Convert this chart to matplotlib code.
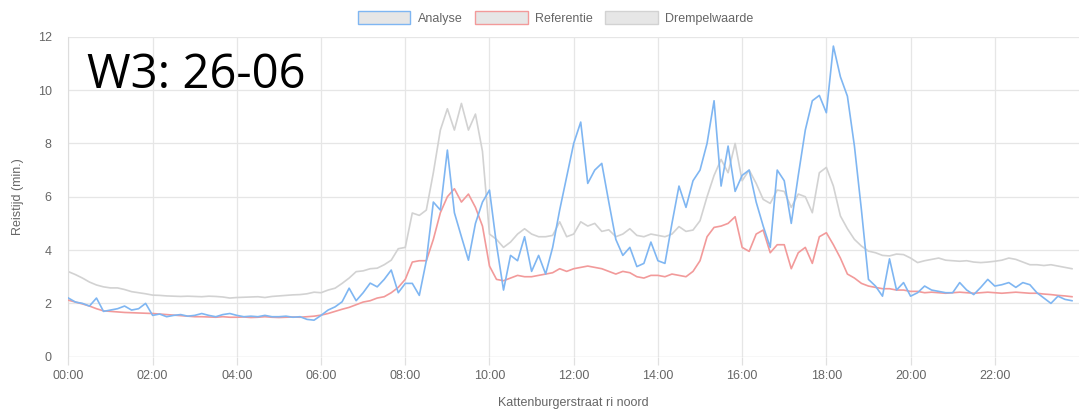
"""
Reistijd Kattenburgerstraat ri noord, 26-06: analyse vs referentie vs drempelwaarde.
"""
import numpy as np
import matplotlib
matplotlib.use("Agg")
import matplotlib.pyplot as plt
from matplotlib.patches import Patch

# minutes since midnight, one value per 10 minutes
MINUTES = np.arange(0, 24 * 60, 10)

# Analyse (min.)
analyse = [
    2.20, 2.05, 2.00, 1.90, 2.20, 1.70,
    1.75, 1.80, 1.90, 1.75, 1.80, 2.00,
    1.55, 1.60, 1.50, 1.55, 1.58, 1.52,
    1.55, 1.62, 1.55, 1.50, 1.58, 1.62,
    1.55, 1.50, 1.52, 1.50, 1.55, 1.50,
    1.50, 1.52, 1.48, 1.50, 1.40, 1.37,
    1.55, 1.75, 1.87, 2.06, 2.57, 2.10,
    2.40, 2.76, 2.62, 2.90, 3.25, 2.40,
    2.75, 2.75, 2.30, 3.60, 5.80, 5.50,
    7.75, 5.40, 4.50, 3.62, 5.00, 5.80,
    6.25, 4.20, 2.50, 3.80, 3.60, 4.50,
    3.20, 3.80, 3.10, 4.10, 5.50, 6.75,
    8.00, 8.80, 6.50, 7.00, 7.25, 5.80,
    4.40, 3.80, 4.10, 3.38, 3.50, 4.30,
    3.60, 3.50, 5.00, 6.40, 5.60, 6.60,
    7.00, 8.00, 9.60, 6.40, 7.90, 6.20,
    6.80, 7.00, 5.80, 4.90, 4.10, 7.00,
    6.60, 5.00, 6.80, 8.50, 9.60, 9.80,
    9.15, 11.65, 10.50, 9.77, 7.90, 5.50,
    2.90, 2.65, 2.27, 3.67, 2.50, 2.78,
    2.27, 2.40, 2.65, 2.50, 2.45, 2.40,
    2.40, 2.78, 2.50, 2.33, 2.60, 2.90,
    2.65, 2.70, 2.78, 2.60, 2.78, 2.70,
    2.40, 2.20, 2.00, 2.27, 2.15, 2.10,
]

# Referentie (min.)
referentie = [
    2.12, 2.05, 1.98, 1.90, 1.80, 1.72,
    1.70, 1.68, 1.66, 1.65, 1.64, 1.63,
    1.62, 1.60, 1.58, 1.56, 1.54, 1.52,
    1.50, 1.50, 1.49, 1.48, 1.50, 1.48,
    1.48, 1.49, 1.47, 1.48, 1.50, 1.48,
    1.47, 1.48, 1.49, 1.48, 1.50, 1.52,
    1.56, 1.62, 1.70, 1.78, 1.85, 1.95,
    2.05, 2.10, 2.20, 2.25, 2.40, 2.60,
    2.90, 3.55, 3.60, 3.60, 4.40, 5.40,
    6.00, 6.30, 5.80, 6.10, 5.60, 4.90,
    3.40, 2.90, 2.85, 2.95, 3.05, 3.00,
    3.00, 3.05, 3.10, 3.15, 3.30, 3.20,
    3.30, 3.35, 3.40, 3.35, 3.30, 3.20,
    3.10, 3.20, 3.15, 3.00, 2.95, 3.05,
    3.05, 3.00, 3.10, 3.05, 3.00, 3.20,
    3.60, 4.50, 4.85, 4.90, 5.00, 5.25,
    4.10, 3.95, 4.60, 4.75, 3.90, 4.20,
    4.20, 3.30, 3.90, 4.10, 3.50, 4.50,
    4.65, 4.20, 3.70, 3.10, 2.95, 2.75,
    2.65, 2.60, 2.55, 2.55, 2.50, 2.50,
    2.45, 2.45, 2.40, 2.42, 2.40, 2.38,
    2.40, 2.42, 2.40, 2.38, 2.40, 2.42,
    2.40, 2.38, 2.40, 2.42, 2.40, 2.38,
    2.38, 2.35, 2.33, 2.30, 2.28, 2.25,
]

# Drempelwaarde (min.)
drempel = [
    3.19, 3.08, 2.95, 2.80, 2.69, 2.62,
    2.58, 2.58, 2.52, 2.44, 2.40, 2.36,
    2.31, 2.30, 2.28, 2.27, 2.26, 2.27,
    2.26, 2.25, 2.27, 2.26, 2.24, 2.20,
    2.22, 2.23, 2.24, 2.25, 2.22, 2.26,
    2.28, 2.30, 2.32, 2.33, 2.36, 2.42,
    2.40, 2.50, 2.57, 2.75, 2.95, 3.19,
    3.22, 3.30, 3.32, 3.45, 3.62, 4.05,
    4.10, 5.39, 5.30, 5.50, 6.90, 8.50,
    9.30, 8.50, 9.50, 8.50, 9.10, 7.70,
    4.60, 4.40, 4.10, 4.30, 4.60, 4.80,
    4.60, 4.50, 4.50, 4.55, 5.06, 4.50,
    4.60, 5.06, 4.90, 5.00, 4.70, 4.76,
    4.50, 4.60, 4.80, 4.55, 4.50, 4.60,
    4.55, 4.50, 4.60, 4.88, 4.70, 4.75,
    5.10, 6.00, 6.80, 7.40, 6.90, 8.00,
    6.60, 7.00, 6.50, 5.90, 5.75, 6.25,
    6.20, 5.60, 6.10, 6.00, 5.40, 6.90,
    7.10, 6.40, 5.28, 4.80, 4.40, 4.15,
    3.96, 3.90, 3.80, 3.78, 3.85, 3.83,
    3.70, 3.53, 3.60, 3.65, 3.70, 3.62,
    3.60, 3.58, 3.60, 3.55, 3.53, 3.55,
    3.58, 3.62, 3.70, 3.65, 3.55, 3.45,
    3.45, 3.42, 3.45, 3.40, 3.35, 3.30,
]

TICK_HOURS = list(range(0, 24, 2))
TICK_LABELS = ["%02d:00" % h for h in TICK_HOURS]

BLUE = "#7fb6f2"
RED = "#f29a9a"
GREY = "#d2d2d2"
TEXT = "#666666"


def main():
    plt.rcParams['font.family'] = ['Liberation Sans', 'DejaVu Sans']
    fig = plt.figure(figsize=(10.79, 4.13), dpi=100)
    ax = fig.add_axes([0.0634, 0.1363, 0.9366, 0.7747])

    hours = MINUTES / 60.0
    ax.plot(hours, drempel, color=GREY, lw=1.2, zorder=2)
    ax.plot(hours, referentie, color=RED, lw=1.2, zorder=3)
    ax.plot(hours, analyse, color=BLUE, lw=1.2, zorder=4)

    ax.set_xlim(0, 24)
    ax.set_ylim(0, 12)
    ax.set_xticks(TICK_HOURS)
    ax.set_xticklabels(TICK_LABELS)
    ax.set_yticks(range(0, 13, 2))
    ax.grid(True, color="#e6e6e6", lw=0.9)
    ax.set_axisbelow(True)
    for side in ("top", "right", "bottom"):
        ax.spines[side].set_visible(False)
    ax.spines["left"].set_color("#dddddd")
    ax.axhline(0, color="#dddddd", lw=0.9, zorder=1)
    ax.tick_params(axis="both", colors="#e0e0e0", labelcolor=TEXT,
                   labelsize=9, length=6, width=0.9)
    ax.tick_params(axis="y", length=0, pad=12)

    ax.set_ylabel("Reistijd (min.)", color=TEXT, fontsize=9, labelpad=10)
    ax.set_xlabel("Kattenburgerstraat ri noord", color=TEXT, fontsize=9,
                  labelpad=11)

    handles = [Patch(facecolor="#e6e6e6", edgecolor=c, lw=1.0)
               for c in (BLUE, RED, GREY)]
    fig.legend(handles, ["Analyse", "Referentie", "Drempelwaarde"],
               loc="center", bbox_to_anchor=(0.515, 0.957), ncol=3,
               frameon=False, fontsize=9, labelcolor=TEXT,
               handlelength=4.2, handleheight=1.2, handletextpad=0.6,
               columnspacing=1.0)

    fig.text(0.081, 0.787, "W3: 26-06", fontsize=34, color="black",
             family="Open Sans")

    fig.savefig("out.png", dpi=100, facecolor="white")


if __name__ == '__main__':
    main()
